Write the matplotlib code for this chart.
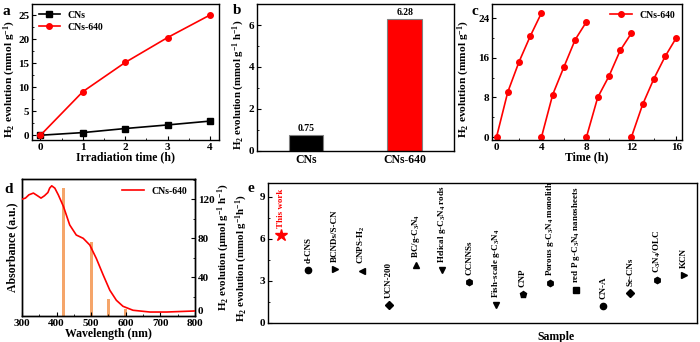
import matplotlib
matplotlib.use("Agg")
import matplotlib.pyplot as plt
from matplotlib.ticker import AutoMinorLocator, NullLocator

plt.rcParams['font.family'] = ['Liberation Serif', 'DejaVu Serif']
plt.rcParams['font.weight'] = 'bold'
plt.rcParams['axes.labelweight'] = 'bold'
plt.rcParams['mathtext.default'] = 'regular'
plt.rcParams['font.size'] = 8
plt.rcParams['axes.linewidth'] = 1.0
plt.rcParams['xtick.direction'] = 'in'
plt.rcParams['ytick.direction'] = 'in'
plt.rcParams['xtick.major.size'] = 3
plt.rcParams['ytick.major.size'] = 3
plt.rcParams['xtick.minor.size'] = 1.5
plt.rcParams['ytick.minor.size'] = 1.5
plt.rcParams['xtick.major.pad'] = 2
plt.rcParams['ytick.major.pad'] = 2

# ---- data ----
# panel a
time_a = [0, 1, 2, 3, 4]
cns_a = [0, 0.55, 1.4, 2.15, 2.95]
cns640_a = [0, 9.1, 15.2, 20.4, 25.1]

# panel b
samples_b = ['CNs', 'CNs-640']
rates_b = [0.75, 6.28]

# panel c (four cycles)
cycle_times = [[0, 1, 2, 3, 4], [4, 5, 6, 7, 8], [8, 9, 10, 11, 12], [12, 13, 14, 15, 16]]
cycle_vals = [[0, 9.1, 15.2, 20.4, 25.1],
              [0, 8.6, 14.2, 19.7, 23.3],
              [0, 8.0, 12.3, 17.5, 21.0],
              [0, 6.6, 11.8, 16.3, 20.1]]

# panel d
wl = [300, 310, 320, 333, 345, 355, 365, 375, 380, 386, 395, 405, 420, 438, 457,
      477, 496, 515, 535, 554, 573, 592, 621, 670, 718, 800]
absorb = [0.997, 1.006, 1.034, 1.049, 1.026, 1.006, 1.026, 1.054, 1.091, 1.111,
          1.091, 1.034, 0.934, 0.777, 0.691, 0.663, 0.606, 0.491, 0.349, 0.220,
          0.134, 0.083, 0.049, 0.034, 0.034, 0.043]
bar_wl = [420, 500, 550, 600]
bar_rate = [131.5, 75.5, 17.9, 7.6]

# panel e
ref_names = ['This work', 'd-CNS', 'BCNDs/S-CN', 'CNPS-H$_2$', 'UCN-200',
             'BC/g-C$_3$N$_4$', 'Helical g-C$_3$N$_4$ rods', 'CCNNSs',
             'Fish-scale g-C$_3$N$_4$', 'CNP', 'Porous g-C$_3$N$_4$ monolith',
             'red P g-C$_3$N$_4$ nanosheets', 'CN-A', 'Se-CNs', 'C$_3$N$_4$/OLC', 'KCN']
ref_vals = [6.28, 3.77, 3.89, 3.70, 1.26, 4.13, 3.77, 2.91, 1.26, 2.10, 2.87,
            2.39, 1.24, 2.15, 3.10, 3.46]
ref_markers = ['*', 'o', '>', '<', 'D', '^', 'v', 'h', 'v', 'p', 'h', 's', 'o',
               'D', 'h', '>']

fig = plt.figure(figsize=(7, 3.42), dpi=100)

# ---- a ----
ax = fig.add_axes([0.0457, 0.5906, 0.267, 0.3977])
ax.plot(time_a, cns_a, '-s', color='black', ms=4, lw=1.2, label='CNs')
ax.plot(time_a, cns640_a, '-o', color='red', ms=4, lw=1.2, label='CNs-640')
ax.set_xlim(-0.2, 4.21)
ax.set_ylim(-1.0, 27.4)
ax.set_xticks([0, 1, 2, 3, 4])
ax.set_yticks([0, 5, 10, 15, 20, 25])
ax.xaxis.set_minor_locator(AutoMinorLocator(2))
ax.yaxis.set_minor_locator(AutoMinorLocator(2))
ax.set_xlabel('Irradiation time (h)', fontsize=8.5, labelpad=0)
ax.set_ylabel('H$_2$ evolution (mmol g$^{-1}$)', fontsize=8.2, labelpad=0)
ax.yaxis.label.set_y(0.45)
ax.legend(loc='upper left', frameon=False, fontsize=7, handlelength=2.2,
          borderaxespad=0.3, labelspacing=0.3)
fig.text(0.004, 0.955, 'a', fontsize=11, fontweight='bold')

# ---- b ----
ax = fig.add_axes([0.367, 0.5585, 0.2814, 0.4298])
ax.bar([0, 1], rates_b, width=0.35, color=['black', 'red'],
       edgecolor='gray', lw=0.8)
for i, v in enumerate(rates_b):
    ax.text(i, v + 0.1, '%.2f' % v, ha='center', va='bottom', fontsize=7)
ax.set_xlim(-0.5, 1.5)
ax.set_ylim(0, 7.0)
ax.set_xticks([0, 1])
ax.set_xticklabels(samples_b, fontsize=8.5)
ax.tick_params(axis='x', length=0)
ax.set_yticks([0, 2, 4, 6])
ax.yaxis.set_minor_locator(AutoMinorLocator(2))
ax.set_ylabel('H$_2$ evolution (mmol g$^{-1}$ h$^{-1}$)', fontsize=7.8, labelpad=1)
ax.yaxis.label.set_y(0.45)
fig.text(0.332, 0.958, 'b', fontsize=11, fontweight='bold')

# ---- c ----
ax = fig.add_axes([0.7029, 0.5906, 0.2714, 0.3977])
for k in range(len(cycle_times)):
    ax.plot(cycle_times[k], cycle_vals[k], '-o', color='red', ms=4, lw=1.2,
            label='CNs-640' if k == 0 else None)
ax.set_xlim(-0.4, 16.5)
ax.set_ylim(-0.6, 26.9)
ax.set_xticks([0, 4, 8, 12, 16])
ax.set_yticks([0, 8, 16, 24])
ax.xaxis.set_minor_locator(AutoMinorLocator(2))
ax.yaxis.set_minor_locator(AutoMinorLocator(2))
ax.set_xlabel('Time (h)', fontsize=8.5, labelpad=0)
ax.set_ylabel('H$_2$ evolution (mmol g$^{-1}$)', fontsize=8.2, labelpad=4)
ax.yaxis.label.set_y(0.45)
ax.legend(loc='upper right', frameon=False, fontsize=7, handlelength=2.2,
          borderaxespad=0.3)
fig.text(0.673, 0.955, 'c', fontsize=11, fontweight='bold')

# ---- d ----
ax = fig.add_axes([0.0314, 0.076, 0.247, 0.4006])
ax2 = ax.twinx()
ax2.bar(bar_wl, bar_rate, width=8, color='#f5a56a', zorder=1)
ax2.set_ylim(0, 140.6)
ax2.set_yticks([0, 40, 80, 120])
ax2.yaxis.set_minor_locator(AutoMinorLocator(2))
ax2.yaxis.get_major_ticks()[0].label2.set_va('bottom')
ax2.set_ylabel('H$_2$ evolution (\u03bcmol g$^{-1}$ h$^{-1}$)', fontsize=7.8, labelpad=1)
ax.plot(wl, absorb, '-', color='red', lw=1.2, label='CNs-640', zorder=3)
ax.set_zorder(ax2.get_zorder() + 1)
ax.patch.set_visible(False)
ax.set_xlim(300, 800)
ax.set_ylim(0, 1.169)
ax.set_xticks([300, 400, 500, 600, 700, 800])
ax.xaxis.set_minor_locator(AutoMinorLocator(2))
ax.yaxis.set_major_locator(NullLocator())
ax.set_xlabel('Wavelength (nm)', fontsize=8.5, labelpad=0)
ax.set_ylabel('Absorbance (a.u.)', fontsize=8.5, labelpad=3)
ax.legend(loc='upper right', frameon=False, fontsize=7, handlelength=2.2,
          borderaxespad=0.4)
fig.text(0.006, 0.435, 'd', fontsize=11, fontweight='bold')

# ---- e ----
ax = fig.add_axes([0.3829, 0.0556, 0.613, 0.4094])
xs = list(range(1, len(ref_vals) + 1))
for x, v, m, name in zip(xs, ref_vals, ref_markers, ref_names):
    c = 'red' if name == 'This work' else 'black'
    ms = 9 if m == '*' else 4.5
    ax.plot(x, v, marker=m, color=c, ms=ms, ls='none')
    ax.annotate(name, (x, v), xytext=(0, 5), textcoords='offset points',
                rotation=90, ha='center', va='bottom', fontsize=6.5, color=c)
ax.set_xlim(0.5, 16.5)
ax.set_ylim(0, 10.0)
ax.xaxis.set_major_locator(NullLocator())
ax.set_yticks([0, 3, 6, 9])
ax.yaxis.set_minor_locator(AutoMinorLocator(2))
ax.set_ylabel('H$_2$ evolution (mmol g$^{-1}$h$^{-1}$)', fontsize=7.8, labelpad=2)
ax.yaxis.set_label_coords(-0.043, 0.46)
ax.set_xlabel('Sample', fontsize=8.5)
ax.xaxis.set_label_coords(0.67, -0.06)
fig.text(0.354, 0.44, 'e', fontsize=11, fontweight='bold')

plt.savefig("out.png", dpi=100)
